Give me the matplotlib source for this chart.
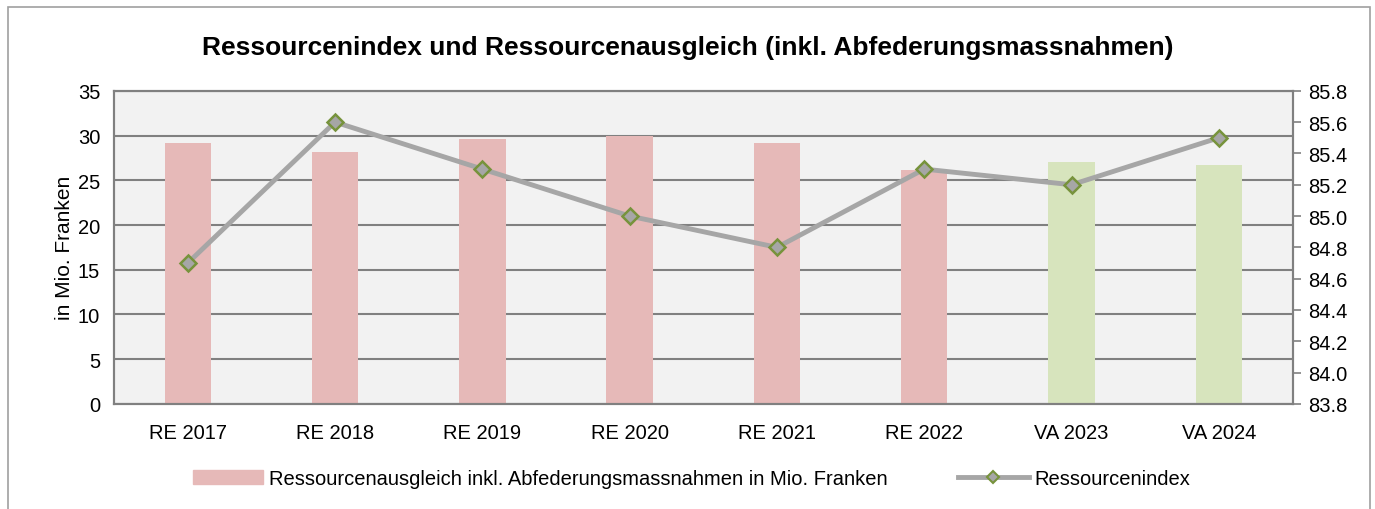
import matplotlib.pyplot as plt
import matplotlib.patches as mpatches
from matplotlib.lines import Line2D
import numpy as np

plt.rcParams['font.family'] = ['Liberation Sans', 'DejaVu Sans']

categories = ['RE 2017', 'RE 2018', 'RE 2019', 'RE 2020', 'RE 2021', 'RE 2022', 'VA 2023', 'VA 2024']
ausgleich = [29.2, 28.2, 29.6, 29.9, 29.2, 26.2, 27.0, 26.7]
ressourcenindex = [84.7, 85.6, 85.3, 85.0, 84.8, 85.3, 85.2, 85.5]
bar_colors = ['#e6b9b8'] * 6 + ['#d7e4bd'] * 2

fig = plt.figure(figsize=(13.75, 5.1), dpi=100)
ax = fig.add_axes([0.083, 0.206, 0.857, 0.614])
ax.set_facecolor('#f2f2f2')

x = np.arange(len(categories))
ax.bar(x, ausgleich, width=0.315, color=bar_colors, zorder=2)
ax.set_xlim(-0.5, len(categories) - 0.5)
ax.set_ylim(0, 35)
ax.set_yticks(np.arange(0, 36, 5))
ax.yaxis.grid(True, color='#808080', linewidth=1.5, zorder=1)
ax.set_axisbelow(True)
ax.set_xticks(x)
ax.set_xticklabels(categories, fontsize=14.5)
ax.tick_params(axis='y', labelsize=14.5, length=0, pad=10)
ax.tick_params(axis='x', length=0, pad=14)
ax.set_ylabel('in Mio. Franken', fontsize=15, labelpad=3)
for s in ['left', 'bottom', 'top', 'right']:
    ax.spines[s].set_color('#808080')
    ax.spines[s].set_linewidth(1.5)

ax2 = ax.twinx()
ax2.plot(x, ressourcenindex, color='#a6a6a6', linewidth=3.5, marker='D', markersize=8,
         markerfacecolor='#a6a6a6', markeredgecolor='#77933c', markeredgewidth=1.8, zorder=3)
ax2.set_ylim(83.8, 85.8)
ax2.set_yticks(np.arange(83.8, 85.81, 0.2))
ax2.set_yticklabels([f'{v:.1f}' for v in np.arange(83.8, 85.81, 0.2)])
ax2.tick_params(axis='y', labelsize=14.5, length=6, width=1.2, color='#808080', pad=5)
for s in ['left', 'bottom', 'top', 'right']:
    ax2.spines[s].set_color('#808080')
    ax2.spines[s].set_linewidth(1.5)

fig.suptitle('Ressourcenindex und Ressourcenausgleich (inkl. Abfederungsmassnahmen)',
             fontsize=19, fontweight='bold', y=0.93)

handles = [mpatches.Patch(color='#e6b9b8'),
           Line2D([0], [0], color='#a6a6a6', linewidth=3.5, marker='D', markersize=6,
                  markerfacecolor='#a6a6a6', markeredgecolor='#77933c', markeredgewidth=1.5)]
labels = ['Ressourcenausgleich inkl. Abfederungsmassnahmen in Mio. Franken', 'Ressourcenindex']
fig.legend(handles, labels, loc='center', bbox_to_anchor=(0.503, 0.06), ncol=2, frameon=False,
           fontsize=14.5, columnspacing=3.5, handlelength=3.5, handletextpad=0.3)

fig.patches.append(mpatches.Rectangle((0.006, -0.01), 0.99, 0.994, transform=fig.transFigure,
                                      fill=False, edgecolor='#a0a0a0', linewidth=1.2))

fig.savefig('out.png', dpi=100)
